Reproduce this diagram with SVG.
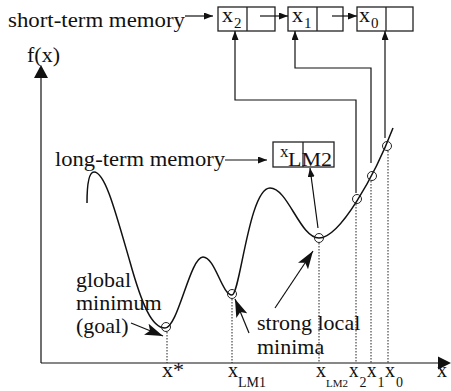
<svg xmlns="http://www.w3.org/2000/svg" width="451" height="391" viewBox="0 0 451 391">
<style>
.t{font-size:22px}
.s{font-size:14px}
.box{fill:none;stroke:#222;stroke-width:1.3}
.ln{fill:none;stroke:#111;stroke-width:1.2}
.dot{fill:none;stroke:#222;stroke-width:1;stroke-dasharray:1.5,1.5}
.cur{fill:none;stroke:#111;stroke-width:1.5}
.pt{fill:none;stroke:#222;stroke-width:1}
</style>
<defs>
<marker id="a" markerWidth="9" markerHeight="7" refX="9" refY="3.5" orient="auto" markerUnits="userSpaceOnUse"><path d="M0,0 L9,3.5 L0,7 z" fill="#111"/></marker>
<marker id="b" markerWidth="18" markerHeight="12" refX="18" refY="6" orient="auto" markerUnits="userSpaceOnUse"><path d="M0,0 L18,6 L0,12 L4,6 z" fill="#111"/></marker>
</defs>

<g font-family="Liberation Serif, Times New Roman, Times, serif" fill="#111">

<g id="axes">
<line class="ln" x1="41" y1="363" x2="41" y2="76"/>
<polygon points="34,78 41,65 48,78" fill="#111"/>
<line class="ln" x1="41" y1="363" x2="440" y2="363"/>
<polygon points="438,356.5 451,363 438,369.5" fill="#111"/>
<text class="t" x="27" y="62">f(x)</text>
<text class="t" x="437" y="377" textLength="10" lengthAdjust="spacingAndGlyphs">x</text>
</g>

<g id="curve">
<path class="cur" d="M87,203 C87,182 89,172 94,172 C105,172 115,210 130,262 C142,305 152,328 165,328 C178,328 190,257 203,257 C215,257 222,295 232,295 C240,295 249,188 270,188 C288,188 300,238 319,238 C340,238 375,175 393,128"/>
</g>

<g id="points">
<circle class="pt" cx="166" cy="327" r="4.5"/>
<circle class="pt" cx="232" cy="294" r="4.5"/>
<circle class="pt" cx="319" cy="238" r="4.5"/>
<circle class="pt" cx="357" cy="199" r="4.5"/>
<circle class="pt" cx="372" cy="176" r="4.5"/>
<circle class="pt" cx="387" cy="146" r="4.5"/>
</g>

<g id="dropLines">
<line class="dot" x1="167" y1="332" x2="167" y2="363"/>
<line class="dot" x1="232" y1="299" x2="232" y2="363"/>
<line class="dot" x1="319" y1="243" x2="319" y2="363"/>
<line class="dot" x1="356" y1="204" x2="356" y2="363"/>
<line class="dot" x1="371" y1="181" x2="371" y2="363"/>
<line class="dot" x1="388" y1="151" x2="388" y2="363"/>
</g>

<g id="tickLabels">
<text class="t" x="162" y="377" textLength="22" lengthAdjust="spacingAndGlyphs">x*</text>
<text class="t" x="228" y="377" textLength="10" lengthAdjust="spacingAndGlyphs">x</text><text class="s" x="238" y="387">LM1</text>
<text class="t" x="316" y="377" textLength="10" lengthAdjust="spacingAndGlyphs">x</text><text font-size="11" x="326" y="387">LM2</text>
<text class="t" x="349" y="377" textLength="9.5" lengthAdjust="spacingAndGlyphs">x</text><text class="s" x="359.5" y="387">2</text>
<text class="t" x="367" y="377" textLength="9.5" lengthAdjust="spacingAndGlyphs">x</text><text class="s" x="377.5" y="387">1</text>
<text class="t" x="385" y="377" textLength="10" lengthAdjust="spacingAndGlyphs">x</text><text class="s" x="396" y="387">0</text>
</g>

<g id="shortTermLabel">
<text class="t" x="8" y="27" textLength="177" lengthAdjust="spacingAndGlyphs">short-term memory</text>
</g>

<g id="stm-x2">
<rect class="box" x="218" y="7" width="57" height="24"/>
<line class="box" x1="247" y1="7" x2="247" y2="31"/>
<text class="t" x="222" y="22" textLength="11" lengthAdjust="spacingAndGlyphs">x</text><text font-size="15" x="234" y="28">2</text>
</g>
<g id="stm-x1">
<rect class="box" x="288" y="7" width="55" height="24"/>
<line class="box" x1="317" y1="7" x2="317" y2="31"/>
<text class="t" x="292" y="22" textLength="11" lengthAdjust="spacingAndGlyphs">x</text><text font-size="15" x="304" y="28">1</text>
</g>
<g id="stm-x0">
<rect class="box" x="357" y="7" width="56" height="24"/>
<line class="box" x1="386" y1="7" x2="386" y2="31"/>
<text class="t" x="359" y="22" textLength="11" lengthAdjust="spacingAndGlyphs">x</text><text font-size="15" x="371" y="28">0</text>
</g>

<g id="longTermLabel">
<text class="t" x="55" y="166" textLength="170" lengthAdjust="spacingAndGlyphs">long-term memory</text>
</g>
<g id="ltm-xLM2">
<rect class="box" x="273" y="142" width="61" height="25"/>
<line class="box" x1="303" y1="142" x2="303" y2="167"/>
<text font-size="17" x="280" y="157">x</text><text font-size="19" x="288" y="166" textLength="44" lengthAdjust="spacingAndGlyphs">LM2</text>
</g>

<g id="annotations">
<text class="t" x="76" y="287">global</text>
<text class="t" x="76" y="310">minimum</text>
<text class="t" x="76" y="333">(goal)</text>
<text class="t" x="257" y="330">strong local</text>
<text class="t" x="257" y="354">minima</text>
</g>

<g id="connectors">
<line class="ln" x1="185" y1="16" x2="213" y2="16" marker-end="url(#a)"/>
<line class="ln" x1="260" y1="16" x2="288" y2="16" marker-end="url(#a)"/>
<line class="ln" x1="332" y1="16" x2="357" y2="16" marker-end="url(#a)"/>
<polyline class="ln" points="356,193 356,100 235,100 235,31" marker-end="url(#a)"/>
<polyline class="ln" points="371,163 371,68 295,68 295,31" marker-end="url(#a)"/>
<line class="ln" x1="385" y1="138" x2="385" y2="31" marker-end="url(#a)"/>
<line class="ln" x1="225" y1="160" x2="267" y2="160" marker-end="url(#a)"/>
<line class="ln" x1="318" y1="228" x2="310" y2="168" marker-end="url(#a)"/>
<line class="ln" x1="131" y1="323" x2="163" y2="336" marker-end="url(#b)"/>
<line class="ln" x1="249" y1="333" x2="235" y2="299" marker-end="url(#b)"/>
<line class="ln" x1="275" y1="308" x2="313" y2="251" marker-end="url(#b)"/>
</g>

</g>
</svg>
